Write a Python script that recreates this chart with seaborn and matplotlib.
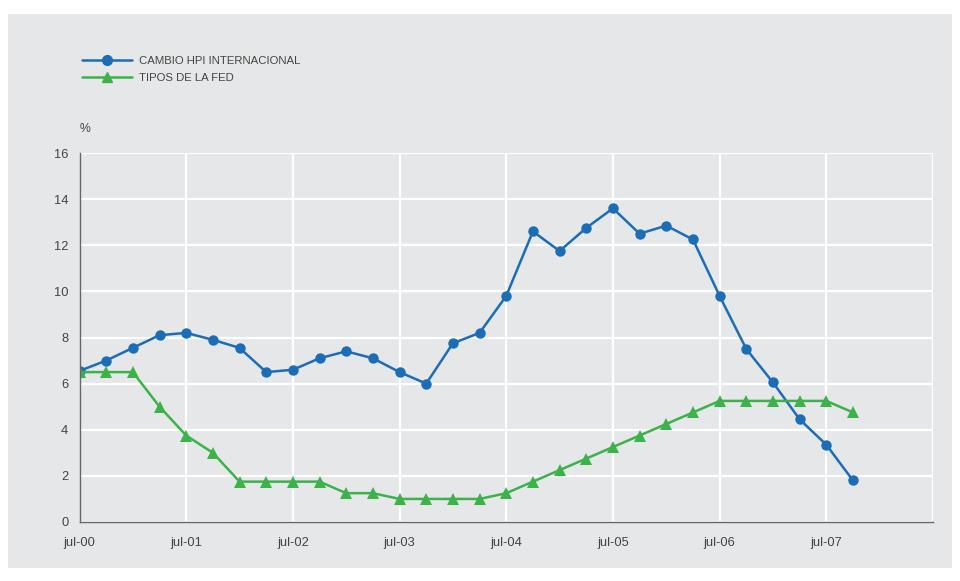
import matplotlib
matplotlib.use("Agg")
import matplotlib.pyplot as plt
import seaborn as sns
import pandas as pd
from matplotlib.patches import Rectangle
from matplotlib.lines import Line2D

quarters = list(range(30))
hpi = [6.55, 7.0, 7.55, 8.1, 8.2, 7.9, 7.55, 6.5, 6.6, 7.1, 7.4, 7.1, 6.5, 6.0, 7.75, 8.2,
       9.8, 12.6, 11.75, 12.75, 13.6, 12.5, 12.85, 12.25, 9.8, 7.5, 6.05, 4.45, 3.35, 1.8]
fed = [6.5, 6.5, 6.5, 5.0, 3.75, 3.0, 1.75, 1.75, 1.75, 1.75, 1.25, 1.25, 1.0, 1.0, 1.0, 1.0,
       1.25, 1.75, 2.25, 2.75, 3.25, 3.75, 4.25, 4.75, 5.25, 5.25, 5.25, 5.25, 5.25, 4.75]
tick_pos = [0, 4, 8, 12, 16, 20, 24, 28, 32]
tick_labels = ["jul-00", "jul-01", "jul-02", "jul-03", "jul-04", "jul-05", "jul-06", "jul-07", ""]
series_names = ["CAMBIO HPI INTERNACIONAL", "TIPOS DE LA FED"]

df = pd.concat([
    pd.DataFrame({"q": quarters, "v": hpi, "s": series_names[0]}),
    pd.DataFrame({"q": quarters, "v": fed, "s": series_names[1]}),
])

sns.set_theme(style="white")
plt.rcParams["font.family"] = ["Liberation Sans", "DejaVu Sans"]

BG = "#e6e7e8"
TXT = "#444444"
fig = plt.figure(figsize=(9.6, 5.81), dpi=100, facecolor="white")
fig.patches.append(Rectangle((8 / 960, 1 - 568 / 581), (952 - 8) / 960, (568 - 14) / 581,
                             transform=fig.transFigure, facecolor=BG, edgecolor="none", zorder=-10))
ax = fig.add_axes([79.5 / 960, 1 - 522 / 581, (933 - 79.5) / 960, (522 - 153) / 581])
ax.set_zorder(5)
ax.set_facecolor(BG)

palette = {series_names[0]: "#1b6db6", series_names[1]: "#3bb34a"}
sns.lineplot(data=df[df["s"] == series_names[0]], x="q", y="v", color=palette[series_names[0]],
             marker="o", markersize=7.5, linewidth=1.8, markeredgewidth=0, ax=ax)
sns.lineplot(data=df[df["s"] == series_names[1]], x="q", y="v", color=palette[series_names[1]],
             marker="^", markersize=8.5, linewidth=1.8, markeredgewidth=0, ax=ax)

ax.set_xlim(0, 32)
ax.set_ylim(0, 16)
ax.set_xticks(tick_pos)
ax.set_xticklabels(tick_labels)
ax.set_yticks(range(0, 17, 2))
ax.grid(True, color="white", linewidth=1.6)
ax.set_axisbelow(True)
for side in ["top", "right"]:
    ax.spines[side].set_visible(False)
for side in ["left", "bottom"]:
    ax.spines[side].set_color("#666666")
    ax.spines[side].set_linewidth(1.0)
ax.tick_params(axis="both", labelsize=9.3, colors=TXT, length=0)
ax.tick_params(axis="x", pad=11)
ax.tick_params(axis="y", pad=8)
ax.set_xlabel("")
ax.set_ylabel("")
ax.text(0.0, 1.048, "%", transform=ax.transAxes, fontsize=8.8, color=TXT, ha="left", va="bottom")

handles = [Line2D([], [], color=palette[series_names[0]], marker="o", markersize=7, linewidth=1.8),
           Line2D([], [], color=palette[series_names[1]], marker="^", markersize=7.5, linewidth=1.8)]
leg = fig.legend(handles, series_names, loc="upper left", bbox_to_anchor=(72 / 960, 1 - 46 / 581),
                 frameon=False, fontsize=8.2, handlelength=4.4, labelspacing=0.55, handletextpad=0.6)
for t in leg.get_texts():
    t.set_color(TXT)

fig.savefig("out.png", dpi=100, facecolor="white")
